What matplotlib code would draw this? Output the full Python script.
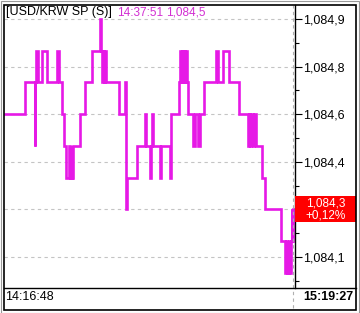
import matplotlib
matplotlib.use("Agg")
import matplotlib.pyplot as plt
from matplotlib.patches import Rectangle
from matplotlib.lines import Line2D
from matplotlib.transforms import blended_transform_factory

# seconds after 14:16:48 and traded price (USD/KRW)
times = [0, 261, 392, 398, 405, 431, 483, 548, 679, 705, 744, 770, 796, 835,
         848, 868, 874, 887, 979, 1044, 1136, 1240, 1253, 1266, 1279, 1292,
         1305, 1318, 1494, 1560, 1573, 1582, 1590, 1723, 1827, 1840, 1893,
         1906, 1919, 1932, 2023, 2036, 2154, 2173, 2265, 2284, 2297, 2310,
         2323, 2336, 2349, 2362, 2375, 2388, 2454, 2480, 2513, 2539, 2597,
         2754, 2786, 2845, 2930, 3054, 3172, 3185, 3198, 3211, 3237, 3250,
         3270, 3348, 3387, 3596, 3661, 3674, 3681, 3694, 3700, 3713, 3720,
         3733, 3746, 3752, 3759]
prices = [1084.6, 1084.7, 1084.5, 1084.7, 1084.8, 1084.7, 1084.8, 1084.7,
          1084.8, 1084.7, 1084.6, 1084.5, 1084.4, 1084.5, 1084.4, 1084.5,
          1084.4, 1084.5, 1084.6, 1084.7, 1084.8, 1084.9, 1084.8, 1084.7,
          1084.8, 1084.7, 1084.8, 1084.7, 1084.6, 1084.7, 1084.5, 1084.3,
          1084.4, 1084.5, 1084.6, 1084.5, 1084.4, 1084.5, 1084.6, 1084.5,
          1084.4, 1084.5, 1084.4, 1084.6, 1084.7, 1084.8, 1084.7, 1084.8,
          1084.7, 1084.8, 1084.7, 1084.8, 1084.7, 1084.6, 1084.5, 1084.6,
          1084.5, 1084.6, 1084.7, 1084.8, 1084.7, 1084.8, 1084.7, 1084.6,
          1084.5, 1084.6, 1084.5, 1084.6, 1084.5, 1084.6, 1084.5, 1084.4,
          1084.3, 1084.2, 1084.1, 1084.2, 1084.1, 1084.2, 1084.1, 1084.2,
          1084.1, 1084.2, 1084.3, 1084.2, 1084.3]

ytick_values = [1084.9, 1084.75, 1084.6, 1084.45, 1084.3, 1084.15]
# the 1,084,3 label sits under the current-price box
ytick_labels = ["1,084,9", "1,084,8", "1,084,6", "1,084,4", "", "1,084,1"]
minor_values = [1084.825, 1084.675, 1084.525, 1084.375, 1084.225, 1084.075]

title = "[USD/KRW SP (S)]"
cursor_time = "14:37:51"
cursor_price = "1,084,5"
last_price = "1,084,3"
change = "+0,12%"
start_label = "14:16:48"
end_label = "15:19:27"

W, H = 360, 313
plt.rcParams['font.family'] = ['Liberation Sans', 'DejaVu Sans']
line_col = '#e619e6'

fig = plt.figure(figsize=(W / 100, H / 100), dpi=100)
fig.patch.set_facecolor('white')

def fx(px):
    return px / W

def fy(py):
    return 1 - py / H

ax = fig.add_axes([fx(4), fy(288), fx(295) - fx(4), fy(5) - fy(288)])
ax.step(times, prices, where='post', color=line_col, lw=1.9, solid_joinstyle='miter')
ax.set_xlim(-13, 3785)
ax.set_ylim(1084.052, 1084.944)

ax.yaxis.tick_right()
ax.set_yticks(ytick_values)
ax.set_yticklabels(ytick_labels)
ax.set_yticks(minor_values, minor=True)
ax.tick_params(axis='y', which='major', length=5, width=0.8, pad=1,
               labelsize=9, colors='black')
ax.tick_params(axis='y', which='minor', length=3, width=0.8)
ax.set_xticks([])
ax.grid(axis='y', color='#c4c4c4', linestyle=(0, (3, 3)), linewidth=0.8)
for s in ['left', 'top', 'bottom']:
    ax.spines[s].set_visible(False)
ax.spines['right'].set_linewidth(1.0)

# cursor line at the last trade, running down through the time strip
ax.axvline(times[-1], ymin=-(308 - 288) / 283, ymax=1, color='#b0b0b0',
           linestyle=(0, (3, 3)), lw=0.8, clip_on=False)

# current price box
tr = blended_transform_factory(ax.transAxes, ax.transData)
box_h = 0.082
ax.add_patch(Rectangle((1.0, prices[-1] - box_h / 2), (355.5 - 295) / 291, box_h,
                       transform=tr, facecolor='#ff0000', edgecolor='none',
                       clip_on=False, zorder=5))
bx = 1.0 + (325.5 - 295) / 291
ax.text(bx, prices[-1] - 0.001, last_price + "\n" + change, transform=tr,
        color='white', ha='center', va='center', fontsize=8.5, linespacing=1.05,
        zorder=6, clip_on=False)

# header
fig.text(fx(6), fy(12.5), title, color='black', fontsize=9, va='center')
fig.text(fx(117), fy(12.5), cursor_time, color='#d22ed2', fontsize=8.5, va='center')
fig.text(fx(166), fy(12.5), cursor_price, color='#d22ed2', fontsize=8.5, va='center')

# time strip
fig.text(fx(5), fy(297.5), start_label, fontsize=9, va='center')
fig.text(fx(353), fy(297.5), end_label, fontsize=9, va='center', ha='right',
         fontweight='bold')
fig.add_artist(Line2D([fx(4), fx(355.5)], [fy(288), fy(288)], color='black', lw=1.0))

# frames
fig.add_artist(Rectangle((fx(4), fy(309.5)), fx(355.5) - fx(4), fy(5) - fy(309.5),
                         fill=False, edgecolor='black', lw=1.2))
fig.add_artist(Rectangle((fx(0.5), fy(312.5)), fx(359) - fx(0.5), fy(0.5) - fy(312.5),
                         fill=False, edgecolor='#9a9a9a', lw=0.8))

fig.savefig('out.png', dpi=100)
